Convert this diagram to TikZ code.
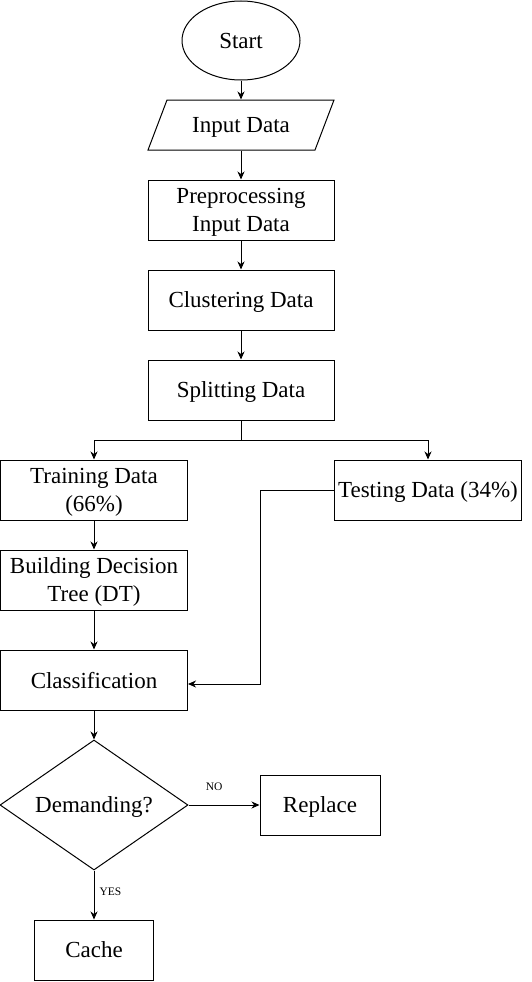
\documentclass[tikz,border=0pt]{standalone}
\usepackage{fontspec}
\setmainfont{Liberation Serif}
\usetikzlibrary{shapes.geometric,arrows.meta}

\begin{document}
\begin{tikzpicture}[x=1pt, y=-1pt, line width=1pt,
    txt/.style={font=\fontsize{23}{28}\selectfont, align=center, inner sep=0pt, text depth=0pt},
    box/.style={txt, draw, rectangle, minimum width=186pt, minimum height=60pt},
    flow/.style={-{Stealth[length=8pt, width=7pt, inset=2.5pt]}},
    tag/.style={font=\fontsize{11.5}{13}\selectfont, inner sep=0pt}]
        \useasboundingbox (0,0) rectangle (532,982);
        \coordinate (fork) at (241,440);
        \coordinate (bend) at (260,684);

        % Main column.
        \node[txt, draw, ellipse, minimum width=118pt, minimum height=79pt] (start) at (241,40.5) {Start};
        \node[txt, minimum width=186pt, minimum height=50pt] (input) at (241,125) {Input Data};
        \draw (148,150) -- (315,150) -- (334,100) -- (167,100) -- cycle;
        \node[box] (prep) at (241,210) {Preprocessing\\Input Data};
        \node[box] (clus) at (241,300) {Clustering Data};
        \node[box] (split) at (241,390) {Splitting Data};

        % Two branches.
        \node[box, minimum width=187pt] (train) at (94,490) {Training Data\\(66\%)};
        \node[box, minimum width=187pt] (test) at (428,490) {Testing Data (34\%)};
        \node[box, minimum width=187pt] (build) at (94,580) {Building Decision\\Tree (DT)};
        \node[box, minimum width=187pt] (class) at (94,680) {Classification};

        % Decision.
        \node[txt, draw, diamond, minimum width=188pt, minimum height=130pt, shape aspect=1.45] (dem) at (94,805) {Demanding?};
        \node[box, minimum width=120pt] (rep) at (320,805) {Replace};
        \node[box, minimum width=119pt] (cache) at (94,950) {Cache};

        \draw[flow] (start) -- (input);
        \draw[flow] (input) -- (prep);
        \draw[flow] (prep) -- (clus);
        \draw[flow] (clus) -- (split);
        \draw (split) -- (fork);
        \draw[flow] (fork) -| (train);
        \draw[flow] (fork) -| (test);
        \draw[flow] (train) -- (build);
        \draw[flow] (build) -- (class);
        \draw[flow] (test.west) -| (bend) -- (class.east |- bend);
        \draw[flow] (class) -- (dem);
        \draw[flow] (dem) -- node[tag, pos=0.36, anchor=base, yshift=15pt] {NO} (rep);
        \draw[flow] (dem) -- node[tag, pos=0.5, anchor=base west, xshift=5pt] {YES} (cache);
\end{tikzpicture}
\end{document}
